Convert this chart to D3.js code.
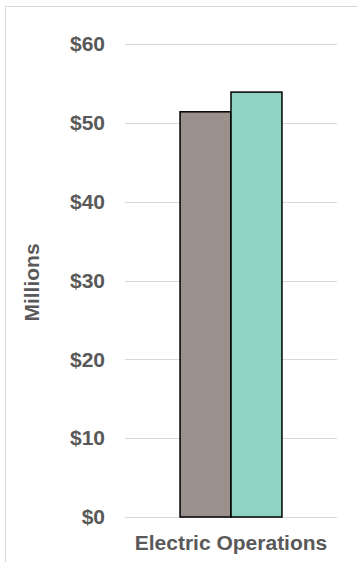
<!DOCTYPE html>
<html>
<head>
<meta charset="utf-8">
<script src="https://cdn.jsdelivr.net/npm/d3@7"></script>
<style>
  html, body { margin: 0; padding: 0; background: #fff; }
  svg { display: block; }
</style>
</head>
<body>
<svg id="chart" width="357" height="562"></svg>
<script>
// Chart data
const categories = ["Electric Operations"];
const seriesNames = ["Prior", "Current"];
const seriesValues = [[51.4], [53.9]];
const seriesColors = ["#9a908c", "#8fd3c5"];
const yTicks = [0, 10, 20, 30, 40, 50, 60];
const yTitle = "Millions";

const svg = d3.select("#chart");
const W = 357, H = 562;
const plot = { left: 125, right: 337, top: 44, bottom: 517 };
const font = "Liberation Sans, Arial, sans-serif";
const textColor = "#595959";

// Outer chart frame (runs past the right and bottom edges)
svg.append("rect")
  .attr("x", 5.5).attr("y", 6.5)
  .attr("width", W + 20).attr("height", H + 20)
  .attr("fill", "#fff").attr("stroke", "#d9d9d9").attr("stroke-width", 1);

const y = d3.scaleLinear().domain([0, 60]).range([plot.bottom, plot.top]);
const x0 = d3.scaleBand().domain(categories).range([plot.left, plot.right]).paddingInner(0).paddingOuter(0.54);
const x1 = d3.scaleBand().domain(seriesNames).range([0, x0.bandwidth()]).padding(0);

// Gridlines
svg.append("g").selectAll("line").data(yTicks).join("line")
  .attr("x1", plot.left).attr("x2", plot.right)
  .attr("y1", d => Math.round(y(d)) + 0.5).attr("y2", d => Math.round(y(d)) + 0.5)
  .attr("stroke", "#d9d9d9").attr("stroke-width", 1);

// Y axis labels
const yAxis = d3.axisLeft(y).tickValues(yTicks).tickFormat(d => "$" + d).tickSize(0).tickPadding(0);
const gy = svg.append("g").attr("transform", `translate(${105},0)`).call(yAxis);
gy.select(".domain").remove();
gy.selectAll("text")
  .attr("font-family", font)
  .attr("font-size", 21).attr("font-weight", "bold").attr("fill", textColor);

// Y axis title
svg.append("text")
  .attr("transform", `translate(38.5,${282.5}) rotate(-90)`)
  .attr("text-anchor", "middle")
  .attr("font-family", font)
  .attr("font-size", 21).attr("font-weight", "bold").attr("fill", textColor)
  .text(yTitle);

// Bars
categories.forEach((cat, ci) => {
  seriesNames.forEach((s, si) => {
    const v = seriesValues[si][ci];
    svg.append("rect")
      .attr("x", x0(cat) + x1(s))
      .attr("y", y(v))
      .attr("width", x1.bandwidth())
      .attr("height", y(0) - y(v))
      .attr("fill", seriesColors[si])
      .attr("stroke", "#000").attr("stroke-width", 1.5);
  });
});

// Category axis
const xAxis = d3.axisBottom(x0).tickSize(0).tickPadding(0);
const gx = svg.append("g").attr("transform", `translate(0,${plot.bottom + 18})`).call(xAxis);
gx.select(".domain").remove();
gx.selectAll("text")
  .attr("font-family", font)
  .attr("font-size", 21).attr("font-weight", "bold").attr("fill", textColor);
</script>
</body>
</html>
